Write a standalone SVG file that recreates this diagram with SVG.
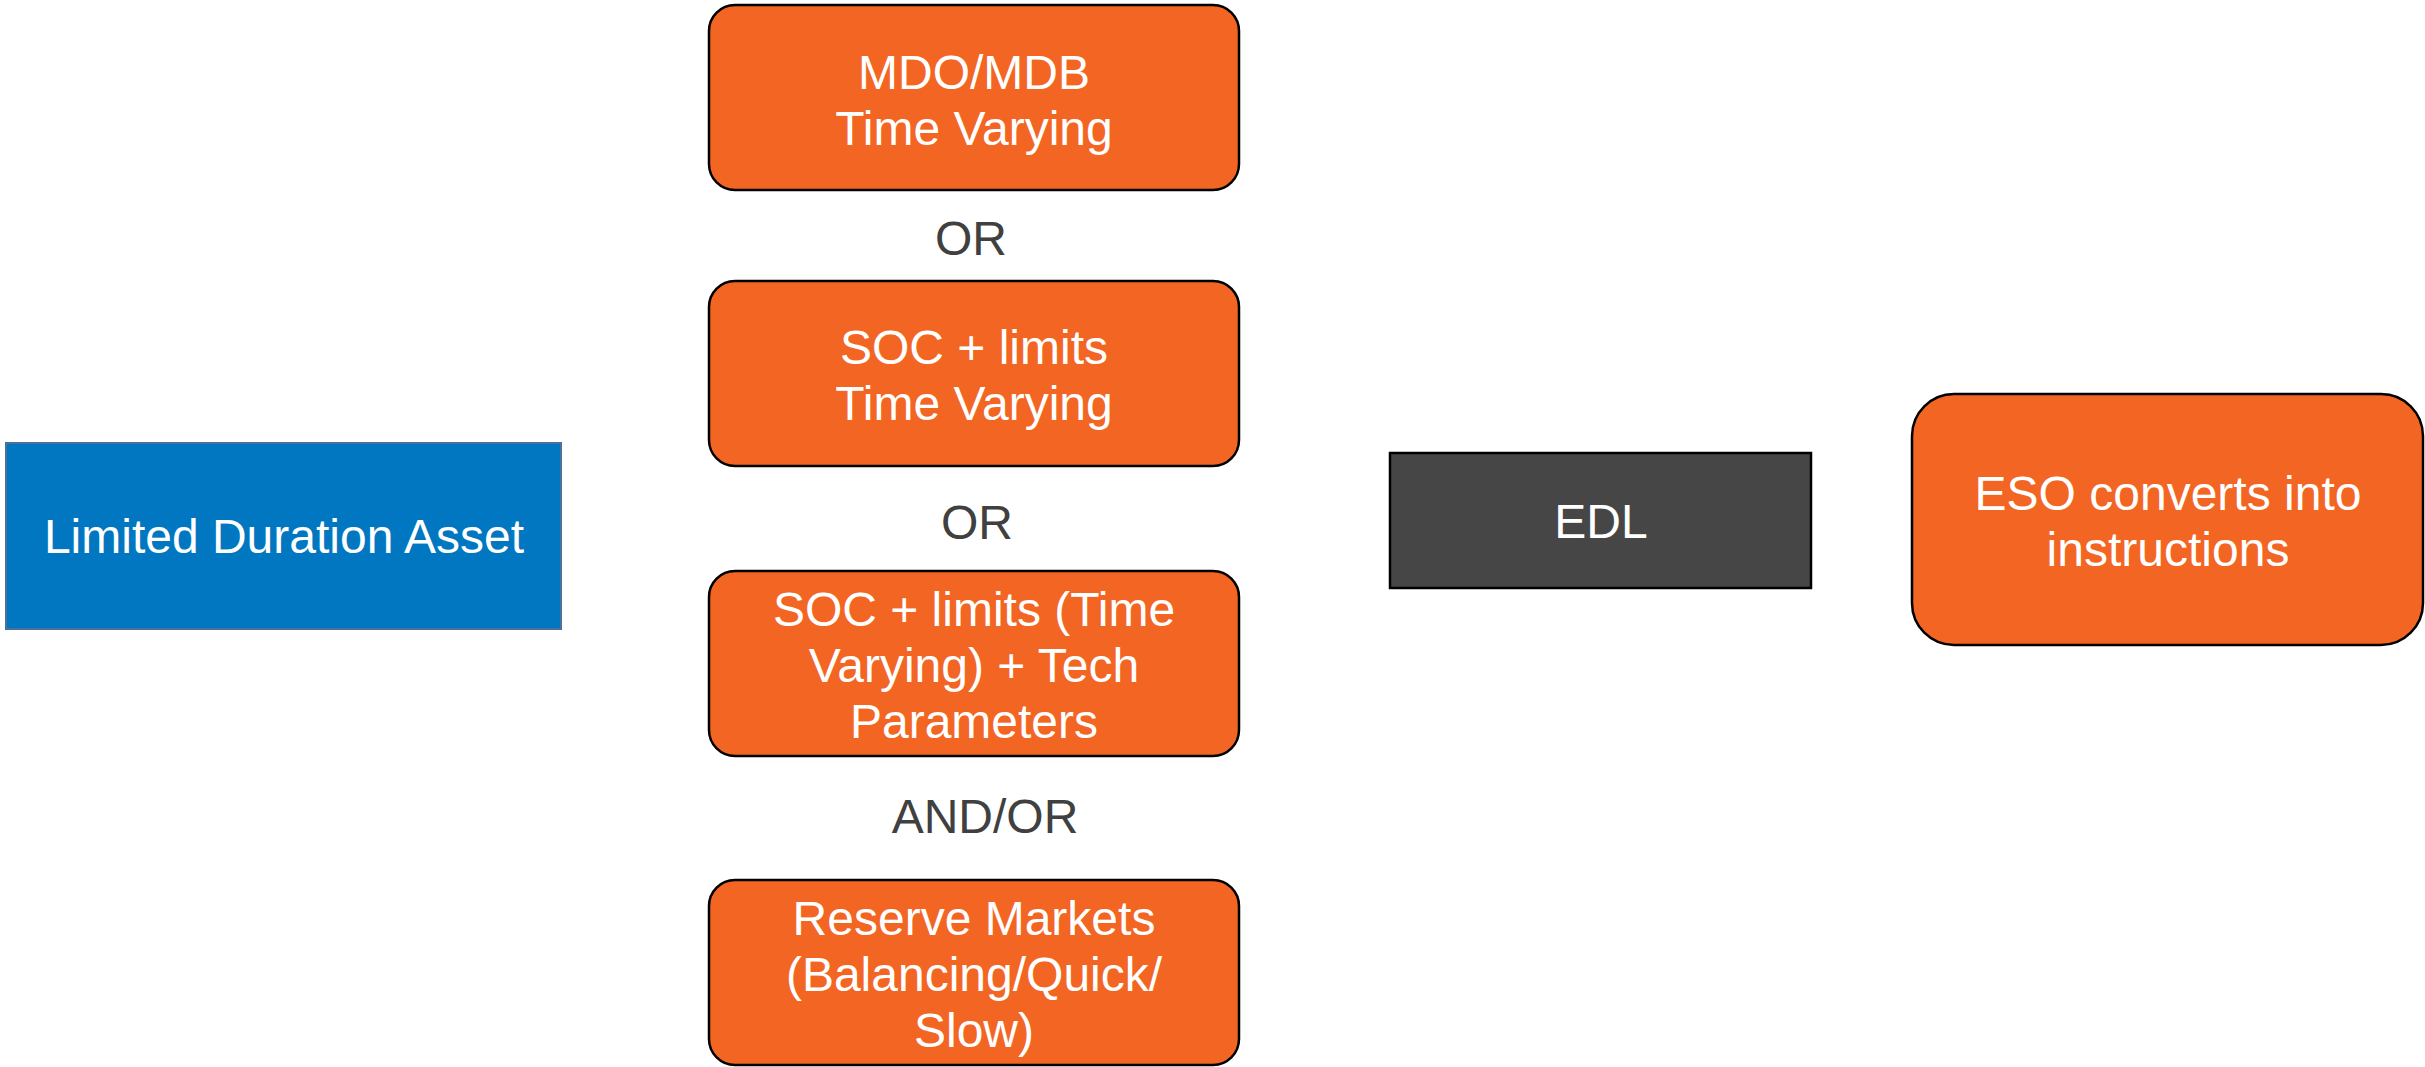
<svg xmlns="http://www.w3.org/2000/svg" width="2425" height="1067" viewBox="0 0 2425 1067">
<style>
text{font-family:"Liberation Sans",Arial,sans-serif;font-size:48px;text-anchor:middle}
.w{fill:#ffffff}
.lbl{fill:#404040}
.orange{fill:#F36523;stroke:#000000;stroke-width:2.5}
</style>
<rect width="2425" height="1067" fill="#ffffff"/>
<g id="limited-duration-asset">
<rect x="6" y="443" width="555" height="186" fill="#0077C0" stroke="#4D7099" stroke-width="2"/>
<text class="w" x="284" y="553">Limited Duration Asset</text>
</g>
<g id="mdo-mdb">
<rect class="orange" x="709" y="5" width="530" height="185" rx="26"/>
<text class="w" x="974" y="89">MDO/MDB</text>
<text class="w" x="974" y="145">Time Varying</text>
</g>
<g id="or-1"><text class="lbl" x="971" y="255">OR</text></g>
<g id="soc-limits">
<rect class="orange" x="709" y="281" width="530" height="185" rx="26"/>
<text class="w" x="974" y="364">SOC + limits</text>
<text class="w" x="974" y="420">Time Varying</text>
</g>
<g id="or-2"><text class="lbl" x="977" y="539">OR</text></g>
<g id="soc-tech">
<rect class="orange" x="709" y="571" width="530" height="185" rx="26"/>
<text class="w" x="974" y="626">SOC + limits (Time</text>
<text class="w" x="974" y="682">Varying) + Tech</text>
<text class="w" x="974" y="738">Parameters</text>
</g>
<g id="and-or"><text class="lbl" x="985" y="833">AND/OR</text></g>
<g id="reserve-markets">
<rect class="orange" x="709" y="880" width="530" height="185" rx="26"/>
<text class="w" x="974" y="935">Reserve Markets</text>
<text class="w" x="974" y="991">(Balancing/Quick/</text>
<text class="w" x="974" y="1047">Slow)</text>
</g>
<g id="edl">
<rect x="1390" y="453" width="421" height="135" fill="#464646" stroke="#000000" stroke-width="2.5"/>
<text class="w" x="1601" y="538">EDL</text>
</g>
<g id="eso">
<rect class="orange" x="1912" y="394" width="511" height="251" rx="42"/>
<text class="w" x="2168" y="510">ESO converts into</text>
<text class="w" x="2168" y="566">instructions</text>
</g>
<g id="connectors"></g>
</svg>
